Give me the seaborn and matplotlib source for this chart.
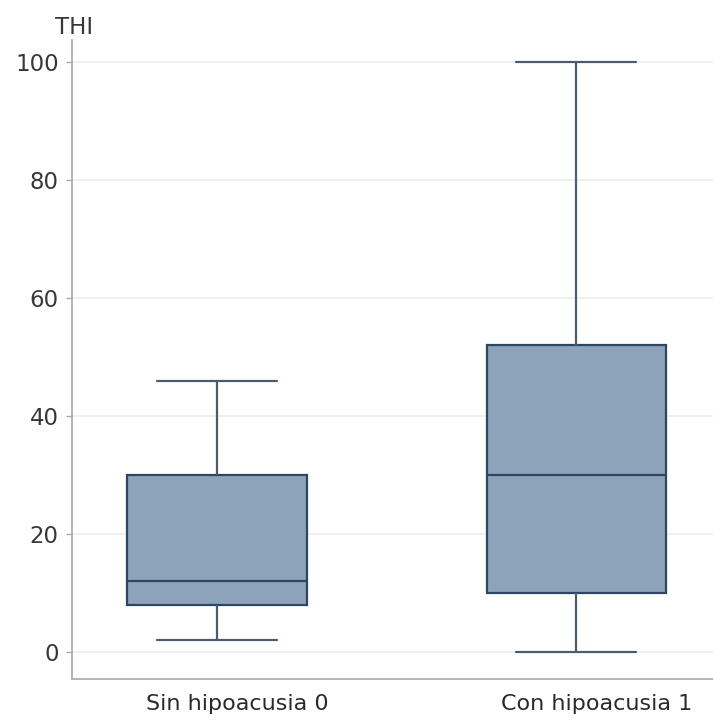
import matplotlib
matplotlib.use("Agg")
import matplotlib.pyplot as plt
import matplotlib.transforms as mtransforms
import numpy as np
import pandas as pd
import seaborn as sns

# Five-number summaries per group: min, Q1, median, Q3, max
categories = ["Sin hipoacusia 0", "Con hipoacusia 1"]
sin_values = [2, 8, 12, 30, 46]
con_values = [0, 10, 30, 52, 100]
y_ticks = [0, 20, 40, 60, 80, 100]

df = pd.DataFrame({
    "grupo": [categories[0]] * len(sin_values) + [categories[1]] * len(con_values),
    "THI": sin_values + con_values,
})

sns.set_theme(style="white")
plt.rcParams["font.family"] = ["DejaVu Sans"]

fig = plt.figure(figsize=(7.13, 7.2), dpi=100)
ax = fig.add_axes([0.101, 0.057, 0.899, 0.887])

box_color = "#8ca3ba"
edge_color = "#2d4763"
whisk_color = "#4b5c6d"

sns.boxplot(
    data=df, x="grupo", y="THI", order=categories, ax=ax,
    color=box_color, saturation=1, width=0.5, whis=(0, 100),
    linewidth=1.6, linecolor=edge_color, showfliers=False,
    capwidths=0.334,
    whiskerprops={"color": whisk_color},
    capprops={"color": whisk_color},
)

ax.set_xlim(-0.404, 1.38)
ax.set_ylim(-4.6, 103.7)
ax.set_yticks(y_ticks)
ax.yaxis.grid(True, color="#eeeeee", linewidth=1.2)
ax.set_axisbelow(True)
ax.set_xlabel("")
ax.set_ylabel("")

for side in ["top", "right"]:
    ax.spines[side].set_visible(False)
for side in ["left", "bottom"]:
    ax.spines[side].set_color("#a8a8a8")
    ax.spines[side].set_linewidth(1.2)

ax.tick_params(axis="y", left=True, length=4, width=1, color="#a8a8a8",
               labelsize=16.5, labelcolor="#383838", pad=5.5)
ax.tick_params(axis="x", bottom=False, length=0, labelsize=16,
               labelcolor="#2a2a2a", pad=11)

# category labels sit slightly right of their boxes
shift = mtransforms.ScaledTranslation(20 / 100, 0, fig.dpi_scale_trans)
for lbl in ax.get_xticklabels():
    lbl.set_transform(lbl.get_transform() + shift)

fig.text(0.077, 0.962, "THI", fontsize=16.5, color="#383838", ha="left", va="center")

fig.savefig("out.png", dpi=100)
